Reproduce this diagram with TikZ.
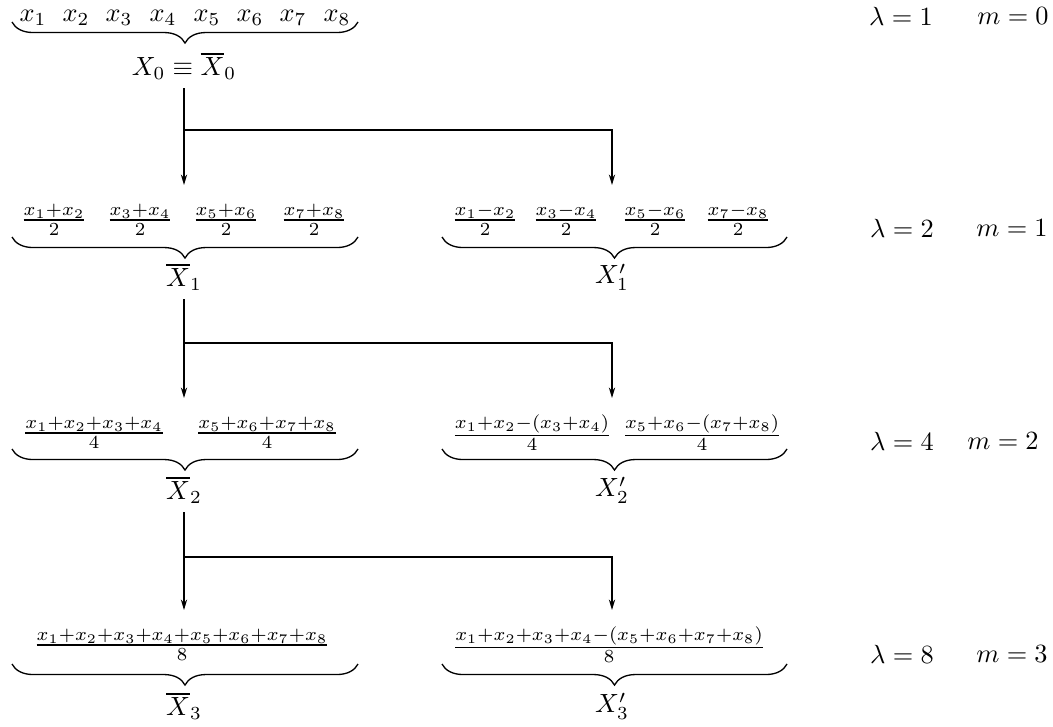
\documentclass[tikz,border=0pt]{standalone}
\usepackage{amsmath}
\usetikzlibrary{decorations.pathreplacing,arrows.meta}
\begin{document}
\begin{tikzpicture}[x=0.38pt,y=-0.38pt,
  brc/.style={decorate,decoration={brace,mirror,amplitude=8pt},line width=0.5pt},
  arr/.style={-{Stealth[length=4pt,width=2.4pt]},line width=0.45pt},
  fr/.style={inner sep=1pt},
  lab/.style={inner sep=3pt}]
\useasboundingbox (0,0) rectangle (1053,727);
% row 0
\foreach \i/\xx in {1/33,2/76,3/119,4/163,5/207,6/250,7/293,8/337}
  \node[inner sep=1pt] (x\i) at (\xx,18) {$x_{\i}$};
\coordinate (b0a) at (12,22); \coordinate (b0b) at (358,22);
\draw[brc] (b0a) -- (b0b);
\node[lab] (X0) at (184,66) {$X_0\equiv\overline{X}_0$};
% row 1
\node[fr] (a11) at (54,220) {$\frac{x_1+x_2}{2}$};
\node[fr] (a12) at (140,220) {$\frac{x_3+x_4}{2}$};
\node[fr] (a13) at (226,220) {$\frac{x_5+x_6}{2}$};
\node[fr] (a14) at (314,220) {$\frac{x_7+x_8}{2}$};
\node[fr] (b11) at (485,220) {$\frac{x_1-x_2}{2}$};
\node[fr] (b12) at (566,220) {$\frac{x_3-x_4}{2}$};
\node[fr] (b13) at (655,220) {$\frac{x_5-x_6}{2}$};
\node[fr] (b14) at (738,220) {$\frac{x_7-x_8}{2}$};
\coordinate (b1a) at (12,237); \coordinate (b1b) at (358,237);
\coordinate (c1a) at (442,237); \coordinate (c1b) at (787,237);
\draw[brc] (b1a) -- (b1b);
\draw[brc] (c1a) -- (c1b);
\node[lab] (X1) at (184,277) {$\overline{X}_1$};
\node[lab] (Y1) at (612,277) {$X_1'$};
% row 2
\node[fr] (a21) at (94,433) {$\frac{x_1+x_2+x_3+x_4}{4}$};
\node[fr] (a22) at (267,433) {$\frac{x_5+x_6+x_7+x_8}{4}$};
\node[fr] (b21) at (532,433) {$\frac{x_1+x_2-(x_3+x_4)}{4}$};
\node[fr] (b22) at (702,433) {$\frac{x_5+x_6-(x_7+x_8)}{4}$};
\coordinate (b2a) at (12,449); \coordinate (b2b) at (358,449);
\coordinate (c2a) at (442,449); \coordinate (c2b) at (787,449);
\draw[brc] (b2a) -- (b2b);
\draw[brc] (c2a) -- (c2b);
\node[lab] (X2) at (184,490) {$\overline{X}_2$};
\node[lab] (Y2) at (612,490) {$X_2'$};
% row 3
\node[fr] (a31) at (182,645) {$\frac{x_1+x_2+x_3+x_4+x_5+x_6+x_7+x_8}{8}$};
\node[fr] (b31) at (609,645) {$\frac{x_1+x_2+x_3+x_4-(x_5+x_6+x_7+x_8)}{8}$};
\coordinate (b3a) at (12,664); \coordinate (b3b) at (358,664);
\coordinate (c3a) at (442,664); \coordinate (c3b) at (787,664);
\draw[brc] (b3a) -- (b3b);
\draw[brc] (c3a) -- (c3b);
\node[lab] (X3) at (184,706) {$\overline{X}_3$};
\node[lab] (Y3) at (612,706) {$X_3'$};
% arrows
\coordinate (t1l) at (184,185); \coordinate (t1r) at (612,185); \coordinate (j1) at (184,130);
\coordinate (t2l) at (184,398); \coordinate (t2r) at (612,398); \coordinate (j2) at (184,343);
\coordinate (t3l) at (184,610); \coordinate (t3r) at (612,610); \coordinate (j3) at (184,557);
\draw[arr] (X0.south) -- (t1l);
\draw[arr] (j1) -| (t1r);
\draw[arr] (X1.south) -- (t2l);
\draw[arr] (j2) -| (t2r);
\draw[arr] (X2.south) -- (t3l);
\draw[arr] (j3) -| (t3r);
% right labels
\node (l0) at (901,16) {$\lambda=1$}; \node (m0) at (1013,16) {$m=0$};
\node (l1) at (902,228) {$\lambda=2$}; \node (m1) at (1012,228) {$m=1$};
\node (l2) at (902,441) {$\lambda=4$}; \node (m2) at (1003,441) {$m=2$};
\node (l3) at (902,654) {$\lambda=8$}; \node (m3) at (1012,654) {$m=3$};
\end{tikzpicture}
\end{document}
